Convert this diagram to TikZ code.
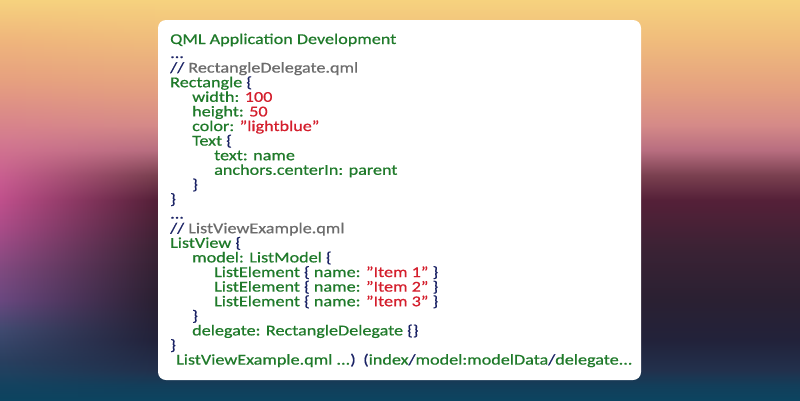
\documentclass[tikz,border=0pt]{standalone}
\usepackage{fontspec}
\setmainfont[FakeStretch=1.21,FakeBold=0.6]{Carlito}
\usetikzlibrary{fadings}

\definecolor{qmlgreen}{HTML}{1F7A2A}
\definecolor{qmlred}{HTML}{D41E2C}
\definecolor{qmlnavy}{HTML}{1C2466}
\definecolor{qmlgray}{HTML}{6C6C6C}

% backdrop colours, top to bottom
\definecolor{sky0}{HTML}{F6D27E}
\definecolor{rsky1}{HTML}{F0BC7C}
\definecolor{rsky2}{HTML}{E4A080}
\definecolor{rsky3}{HTML}{D58A88}
\definecolor{rsky4}{HTML}{B86E80}
\definecolor{rsky5}{HTML}{7A4050}
\definecolor{rsky6}{HTML}{552038}
\definecolor{rsky7}{HTML}{3A2234}
\definecolor{rsky8}{HTML}{2A2032}
\definecolor{rsky9}{HTML}{22223A}
\definecolor{rsky10}{HTML}{22304C}
\definecolor{sea}{HTML}{0C4460}
\definecolor{lsky1}{HTML}{EFB57C}
\definecolor{lsky2}{HTML}{E6A080}
\definecolor{lsky3}{HTML}{D47A90}
\definecolor{lsky4}{HTML}{C85C90}
\definecolor{lsky5}{HTML}{C0508C}
\definecolor{lsky6}{HTML}{A84C88}
\definecolor{lsky7}{HTML}{804A80}
\definecolor{lsky8}{HTML}{6A4880}
\definecolor{lsky9}{HTML}{404A70}
\definecolor{lsky10}{HTML}{2A4060}

\pgfdeclareverticalshading{skyright}{100bp}{color(0bp)=(sea); color(25bp)=(sea);
  color(26.9bp)=(sea!70!rsky10); color(28.75bp)=(rsky10); color(32.5bp)=(rsky9);
  color(37.5bp)=(rsky8); color(43.75bp)=(rsky7); color(50bp)=(rsky6);
  color(53.1bp)=(rsky5); color(56.25bp)=(rsky4); color(59.4bp)=(rsky3);
  color(63.75bp)=(rsky2); color(70bp)=(rsky1); color(75bp)=(sky0); color(100bp)=(sky0)}
\pgfdeclareverticalshading{skyleft}{100bp}{color(0bp)=(sea); color(25bp)=(sea);
  color(27bp)=(sea!70!lsky10); color(30bp)=(lsky10); color(33.75bp)=(lsky9);
  color(37.5bp)=(lsky8); color(41.25bp)=(lsky7); color(46.25bp)=(lsky6);
  color(50bp)=(lsky5); color(52.5bp)=(lsky4); color(57.5bp)=(lsky3);
  color(65bp)=(lsky2); color(70bp)=(lsky1); color(75bp)=(sky0); color(100bp)=(sky0)}
\tikzfading[name=fadeleft, left color=transparent!0, middle color=transparent!15, right color=transparent!100]

\newcommand{\kw}[1]{\textcolor{qmlgreen}{#1}}
\newcommand{\lit}[1]{\textcolor{qmlred}{#1}}
\newcommand{\brc}[1]{\textcolor{qmlnavy}{#1}}
\newcommand{\cmt}[1]{\textcolor{qmlnavy}{//} \textcolor{qmlgray}{#1}}

\begin{document}
\begin{tikzpicture}[x=1pt,y=-1pt]
\tikzstyle{code}= [anchor=base west,inner sep=0pt,text=qmlgreen,font=\fontsize{15}{15}\selectfont]

% backdrop and card
\shade[shading=skyright] (0,0) rectangle (800,400);
\shade[shading=skyleft,path fading=fadeleft] (0,0) rectangle (155,400);
\fill[white,rounded corners=8pt] (158,20) rectangle (641,380);

\path
	(170, 44)   node[code] (title) {QML Application Development}
	(170, 58)   node[code] (dotsa) {\brc{...}}
	(170, 72.6) node[code] (cmta)  {\cmt{RectangleDelegate.qml}}
	(170, 87.2) node[code] (rect)  {Rectangle \brc{\{}}
	(192,101.8) node[code] (wid)   {width: \lit{100}}
	(192,116.4) node[code] (hei)   {height: \lit{50}}
	(192,131.0) node[code] (col)   {color: \lit{"lightblue"}}
	(192,145.6) node[code] (txt)   {Text \brc{\{}}
	(214,160.2) node[code] (txtn)  {text: name}
	(214,174.8) node[code] (anch)  {anchors.centerIn: parent}
	(192,189.4) node[code] (txtc)  {\brc{\}}}
	(170,204.0) node[code] (rectc) {\brc{\}}}
	(170,218.6) node[code] (dotsb) {\brc{...}}
	(170,233.2) node[code] (cmtb)  {\cmt{ListViewExample.qml}}
	(170,247.8) node[code] (lv)    {ListView \brc{\{}}
	(192,262.4) node[code] (mdl)   {model: ListModel \brc{\{}}
	(214,277.0) node[code] (ela)   {ListElement \brc{\{} name: \lit{"Item 1"} \brc{\}}}
	(214,291.6) node[code] (elb)   {ListElement \brc{\{} name: \lit{"Item 2"} \brc{\}}}
	(214,306.2) node[code] (elc)   {ListElement \brc{\{} name: \lit{"Item 3"} \brc{\}}}
	(192,320.8) node[code] (mdlc)  {\brc{\}}}
	(192,335.4) node[code] (dlg)   {delegate: RectangleDelegate \brc{\{\}}}
	(170,350.0) node[code] (lvc)   {\brc{\}}}
	(176,364.6) node[code] (fname) {ListViewExample.qml ...\brc{)}}
	(363,364.6) node[code] (roles) {\brc{(}index\brc{/}model:modelData\brc{/}delegate...}
;
\end{tikzpicture}
\end{document}
